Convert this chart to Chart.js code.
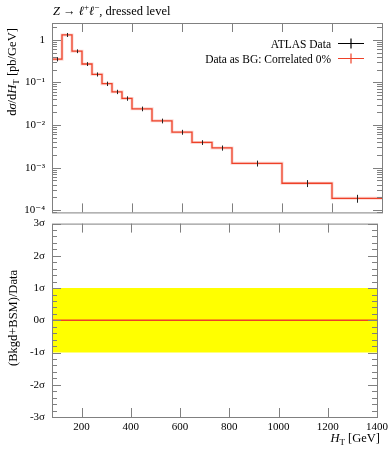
<!DOCTYPE html>
<html>
<head>
<meta charset="utf-8">
<script src="https://cdn.jsdelivr.net/npm/chart.js@4/dist/chart.umd.min.js"></script>
<style>
  body { margin: 0; background: #fff; }
  #wrap { position: relative; width: 392px; height: 450px; }
  canvas { position: absolute; left: 0; }
  #topChart { top: 0; }
  #ratioChart { top: 210px; }
</style>
</head>
<body>
<div id="wrap">
  <canvas id="topChart" width="392" height="226" style="width:392px;height:226px"></canvas>
  <canvas id="ratioChart" width="392" height="240" style="width:392px;height:240px"></canvas>
</div>
<script>
// -------- DATA --------
const binEdges = [80, 120, 160, 200, 240, 280, 320, 360, 400, 480, 560, 640, 720, 800, 1000, 1200, 1400];
const dataVals = [0.35, 1.30, 0.54, 0.27, 0.154, 0.093, 0.060, 0.042, 0.024, 0.0125, 0.0068, 0.0039, 0.0029, 0.00126, 0.00043, 0.00019];
const dataErr  = [0.04, 0.14, 0.055, 0.028, 0.017, 0.011, 0.007, 0.005, 0.003, 0.0016, 0.0009, 0.0005, 0.0004, 0.0002, 0.00008, 0.00004];
const bgVals   = [0.35, 1.30, 0.54, 0.27, 0.154, 0.093, 0.060, 0.042, 0.024, 0.0125, 0.0068, 0.0039, 0.0029, 0.00126, 0.00043, 0.00019];
const ratioVals = [0, 0, 0, 0, 0, 0, 0, 0, 0, 0, 0, 0, 0, 0, 0, 0];
const ratioBand = [1, 1, 1, 1, 1, 1, 1, 1, 1, 1, 1, 1, 1, 1, 1, 1];
const xTickVals = [200, 400, 600, 800, 1000, 1200, 1400];

const SERIF = '"Liberation Serif", "DejaVu Serif", serif';
const RED = "#ee4128";
const FRAME = "#808080";

// step points: one per edge, last value repeated
function steps(vals) {
  return binEdges.map((e, i) => ({ x: e, y: vals[Math.min(i, vals.length - 1)] }));
}

const SUP = { "-": "⁻", "0": "⁰", "1": "¹", "2": "²", "3": "³", "4": "⁴", "5": "⁵" };
function logLabel(v) {
  const e = Math.round(Math.log10(v));
  if (Math.abs(Math.log10(v) - e) > 1e-6) return "";
  if (e === 0) return "1";
  return "10" + String(e).split("").map((c) => SUP[c]).join("");
}

// -------- TEXT HELPER (subscripts etc.) --------
function richText(ctx, parts, x, y, size, align) {
  const fontFor = (p) => (p.italic ? "italic " : "") + (p.sub || p.sup ? size * 0.72 : size) + "px " + SERIF;
  let w = 0;
  parts.forEach((p) => { ctx.font = fontFor(p); w += ctx.measureText(p.t).width; });
  let cx = align === "center" ? x - w / 2 : align === "right" ? x - w : x;
  ctx.textAlign = "left";
  ctx.textBaseline = "alphabetic";
  parts.forEach((p) => {
    ctx.font = fontFor(p);
    ctx.fillText(p.t, cx, y + (p.sub ? size * 0.22 : p.sup ? -size * 0.38 : 0));
    cx += ctx.measureText(p.t).width;
  });
}

// -------- FRAME + INWARD TICKS --------
function framePlugin(isMajorY) {
  return {
    id: "frame",
    afterDraw(chart) {
      const { ctx, chartArea: a, scales } = chart;
      ctx.save();
      ctx.strokeStyle = FRAME;
      ctx.lineWidth = 1;
      ctx.strokeRect(a.left + 0.5, a.top + 0.5, a.right - a.left, a.bottom - a.top);
      ctx.beginPath();
      xTickVals.forEach((v) => {
        const px = Math.round(scales.x.getPixelForValue(v)) + 0.5;
        if (px > a.right - 1) return;
        ctx.moveTo(px, a.bottom); ctx.lineTo(px, a.bottom - 9);
        ctx.moveTo(px, a.top); ctx.lineTo(px, a.top + 9);
      });
      scales.y.ticks.forEach((t) => {
        const py = Math.round(scales.y.getPixelForValue(t.value)) + 0.5;
        const len = isMajorY(t.value) ? 9 : 5;
        ctx.moveTo(a.left, py); ctx.lineTo(a.left + len, py);
        ctx.moveTo(a.right, py); ctx.lineTo(a.right - len, py);
      });
      ctx.stroke();
      ctx.restore();
    }
  };
}

// -------- TOP PANEL --------
const errorBars = {
  id: "errorBars",
  afterDatasetsDraw(chart) {
    const { ctx, scales } = chart;
    ctx.save();
    ctx.strokeStyle = "#222";
    ctx.lineWidth = 1;
    ctx.beginPath();
    dataVals.forEach((v, i) => {
      const cx = Math.round(scales.x.getPixelForValue((binEdges[i] + binEdges[i + 1]) / 2)) + 0.5;
      ctx.moveTo(cx, scales.y.getPixelForValue(v + dataErr[i]));
      ctx.lineTo(cx, scales.y.getPixelForValue(v - dataErr[i]));
    });
    ctx.stroke();
    ctx.restore();
  },
  afterDraw(chart) {
    const ctx = chart.ctx;
    ctx.save();
    ctx.fillStyle = "#000";
    // title
    richText(ctx, [{ t: "Z", italic: true }, { t: " → " }, { t: "ℓ", italic: true }, { t: "+", sup: true },
      { t: "ℓ", italic: true }, { t: "−", sup: true }, { t: ", dressed level" }], 53, 15, 12.5, "left");
    // y title
    ctx.translate(16, 72);
    ctx.rotate(-Math.PI / 2);
    richText(ctx, [{ t: "d" }, { t: "σ", italic: true }, { t: "/d" }, { t: "H", italic: true }, { t: "T", sub: true },
      { t: " [pb/GeV]" }], 0, 0, 12.5, "center");
    ctx.restore();

    // legend
    ctx.save();
    const items = [
      { label: "ATLAS Data", color: "#000", y: 43.5 },
      { label: "Data as BG: Correlated 0%", color: RED, y: 58.5 }
    ];
    items.forEach((it) => {
      ctx.fillStyle = "#000";
      ctx.font = "11.5px " + SERIF;
      ctx.textAlign = "right";
      ctx.textBaseline = "middle";
      ctx.fillText(it.label, 331, it.y + 1);
      ctx.strokeStyle = it.color;
      ctx.lineWidth = 1.2;
      ctx.beginPath();
      ctx.moveTo(338, it.y); ctx.lineTo(364, it.y);
      ctx.moveTo(351, it.y - 5); ctx.lineTo(351, it.y + 5);
      ctx.stroke();
    });
    ctx.restore();
  }
};

new Chart(document.getElementById("topChart"), {
  type: "line",
  data: {
    datasets: [
      { data: steps(bgVals), stepped: true, borderColor: RED, borderWidth: 1.3, pointRadius: 0, fill: false },
      { data: steps(bgVals), stepped: true, borderColor: "rgba(240,90,70,0.25)", borderWidth: 3, pointRadius: 0, fill: false }
    ]
  },
  options: {
    responsive: false,
    animation: false,
    layout: { padding: { top: 23, right: 10, bottom: 3.8, left: 0 } },
    plugins: { legend: { display: false }, tooltip: { enabled: false } },
    scales: {
      x: { type: "linear", min: 80, max: 1400, display: false },
      y: {
        type: "logarithmic",
        min: 8.9e-5,
        max: 2.47,
        grid: { display: false, drawTicks: false },
        border: { display: false },
        afterFit(s) { s.width = 52; },
        afterBuildTicks(s) {
          const t = [];
          for (let e = -5; e <= 0; e++) {
            for (let m = 1; m <= 9; m++) {
              const v = m * Math.pow(10, e);
              if (v >= s.min && v <= s.max) t.push({ value: v });
            }
          }
          s.ticks = t;
        },
        ticks: {
          autoSkip: false,
          padding: 7,
          color: "#000",
          font: { family: SERIF, size: 11 },
          callback: (v) => logLabel(v)
        }
      }
    }
  },
  plugins: [errorBars, framePlugin((v) => logLabel(v) !== "")]
});

// -------- RATIO PANEL --------
const ratioText = {
  id: "ratioText",
  afterDraw(chart) {
    const ctx = chart.ctx;
    ctx.save();
    ctx.fillStyle = "#000";
    richText(ctx, [{ t: "H", italic: true }, { t: "T", sub: true }, { t: " [GeV]" }], 380, 232, 12.5, "right");
    ctx.translate(17, 108);
    ctx.rotate(-Math.PI / 2);
    richText(ctx, [{ t: "(Bkgd+BSM)/Data" }], 0, 0, 12.5, "center");
    ctx.restore();
  }
};

new Chart(document.getElementById("ratioChart"), {
  type: "line",
  data: {
    datasets: [
      { data: steps(ratioVals), stepped: true, borderColor: RED, borderWidth: 1.4, pointRadius: 0, fill: false },
      { data: steps(ratioBand), stepped: true, borderWidth: 0, pointRadius: 0, fill: "+1", backgroundColor: "#ffff00" },
      { data: steps(ratioBand.map((b) => -b)), stepped: true, borderWidth: 0, pointRadius: 0, fill: false }
    ]
  },
  options: {
    responsive: false,
    animation: false,
    layout: { padding: { top: 9, right: 10, bottom: 0, left: 0 } },
    plugins: { legend: { display: false }, tooltip: { enabled: false } },
    scales: {
      x: {
        type: "linear",
        min: 80,
        max: 1400,
        grid: { display: false, drawTicks: false },
        border: { display: false },
        afterFit(s) { s.height = 33; },
        afterBuildTicks(s) { s.ticks = xTickVals.map((v) => ({ value: v })); },
        ticks: {
          autoSkip: false,
          maxRotation: 0,
          padding: 4,
          color: "#000",
          font: { family: SERIF, size: 11 },
          callback: (v) => String(v)
        }
      },
      y: {
        type: "linear",
        min: -3,
        max: 3,
        grid: { display: false, drawTicks: false },
        border: { display: false },
        afterFit(s) { s.width = 52; },
        afterBuildTicks(s) {
          const t = [];
          for (let i = -15; i <= 15; i++) t.push({ value: i / 5 });
          s.ticks = t;
        },
        ticks: {
          autoSkip: false,
          padding: 7,
          color: "#000",
          font: { family: SERIF, size: 11 },
          callback: (v) => (Math.abs(v - Math.round(v)) < 1e-6 ? Math.round(v) + "σ" : "")
        }
      }
    }
  },
  plugins: [ratioText, framePlugin((v) => Math.abs(v - Math.round(v)) < 1e-6)]
});
</script>
</body>
</html>
